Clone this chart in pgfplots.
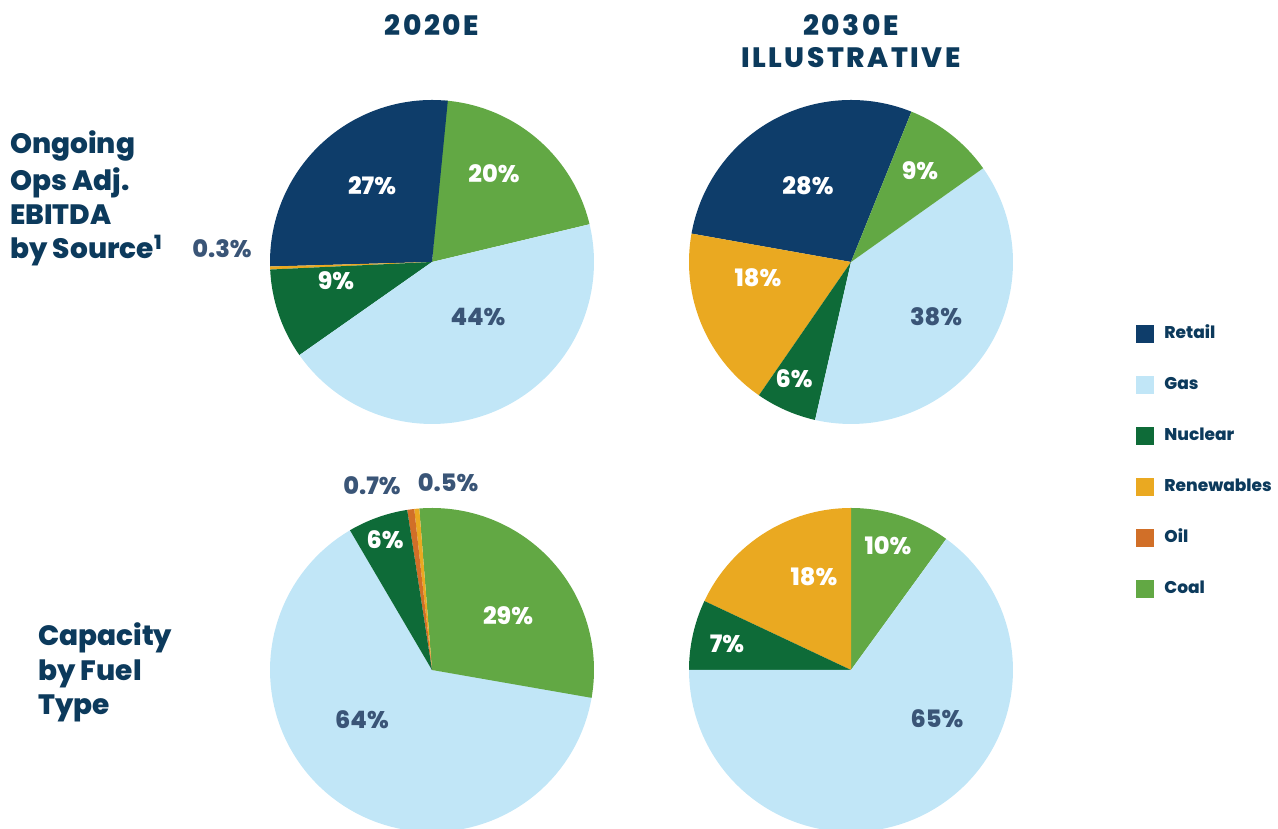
\documentclass[border=0pt]{standalone}
\usepackage{pgfplots}
\pgfplotsset{compat=1.18}
\usepackage{fontspec}
\setmainfont{Poppins}[BoldFont={Poppins ExtraBold}]
\definecolor{retail}{HTML}{0E3D6A}
\definecolor{gas}{HTML}{C1E6F7}
\definecolor{nuclear}{HTML}{0E6B38}
\definecolor{renew}{HTML}{EAA921}
\definecolor{oil}{HTML}{D16F28}
\definecolor{coal}{HTML}{62A844}
\definecolor{navy}{HTML}{0C3A5C}
\definecolor{slate}{HTML}{3A5577}
% slice: cx, cy, start angle, end angle, colour
\newcommand{\slice}[5]{%
  \addplot[fill=#5, draw=none, domain=#3:#4, samples=90, forget plot]
    ({#1+162*cos(x)},{#2+162*sin(x)}) -- (axis cs:#1,#2) -- cycle;}
\newcommand{\fs}[1]{\fontsize{#1}{#1}\selectfont\bfseries}
\begin{document}
\begin{tikzpicture}
\useasboundingbox (0,0) rectangle (1278pt,829pt);
\begin{axis}[at={(0pt,0pt)}, anchor=south west, scale only axis,
  width=1278pt, height=829pt, xmin=0, xmax=1278, ymin=0, ymax=829,
  hide axis,
  legend image code/.code={\fill[#1] (0pt,-8.5pt) rectangle (17pt,8.5pt);
    \path[draw=none, fill=none] (0pt,0pt) rectangle (26pt,0.1pt);},
  legend style={at={(axis cs:1133,507)}, anchor=north west, draw=none, fill=none,
    row sep=31pt, font=\fs{17}\color{navy},
    nodes={text height=12pt, text depth=4pt, inner sep=2pt}},
  legend cell align=left]
% ---- Pie 1: 2020E EBITDA (centre 432,567); start 84.4 deg, 3.6 deg per %
\slice{432}{567}{84.4+80.3*3.6}{84.4+100.3*3.6}{coal}  % Coal 20
\slice{432}{567}{84.4}{84.4+27*3.6}{retail}            % Retail 27
\slice{432}{567}{84.4+27*3.6}{84.4+27.3*3.6}{renew}    % Renewables 0.3
\slice{432}{567}{84.4+27.3*3.6}{84.4+36.3*3.6}{nuclear}% Nuclear 9
\slice{432}{567}{84.4+36.3*3.6}{84.4+80.3*3.6}{gas}    % Gas 44
% ---- Pie 2: 2030E EBITDA (centre 851,567); start 68.1 deg, 360/99 deg per %
\slice{851}{567}{68.1}{68.1+28*360/99}{retail}          % Retail 28
\slice{851}{567}{68.1+28*360/99}{68.1+46*360/99}{renew} % Renewables 18
\slice{851}{567}{68.1+46*360/99}{68.1+52*360/99}{nuclear}% Nuclear 6
\slice{851}{567}{68.1+52*360/99}{68.1+90*360/99}{gas}   % Gas 38
\slice{851}{567}{68.1+90*360/99}{68.1+99*360/99}{coal}  % Coal 9
% ---- Pie 3: 2020E capacity (centre 432,159); start -9.9 deg
\slice{432}{159}{-9.9+36.2*3.6}{-9.9+100.2*3.6}{gas}    % Gas 64
\slice{432}{159}{-9.9}{-9.9+29*3.6}{coal}               % Coal 29
\slice{432}{159}{-9.9+29*3.6}{-9.9+29.5*3.6}{renew}     % Renewables 0.5
\slice{432}{159}{-9.9+29.5*3.6}{-9.9+30.2*3.6}{oil}     % Oil 0.7
\slice{432}{159}{-9.9+30.2*3.6}{-9.9+36.2*3.6}{nuclear} % Nuclear 6
% ---- Pie 4: 2030E capacity (centre 851,159); start 54 deg
\slice{851}{159}{54}{54+10*3.6}{coal}                   % Coal 10
\slice{851}{159}{54+10*3.6}{54+28*3.6}{renew}           % Renewables 18
\slice{851}{159}{54+28*3.6}{54+35*3.6}{nuclear}         % Nuclear 7
\slice{851}{159}{54+35*3.6}{54+100*3.6}{gas}            % Gas 65
% ---- legend
\addlegendimage{retail}\addlegendentry{Retail}
\addlegendimage{gas}\addlegendentry{Gas}
\addlegendimage{nuclear}\addlegendentry{Nuclear}
\addlegendimage{renew}\addlegendentry{Renewables}
\addlegendimage{oil}\addlegendentry{Oil}
\addlegendimage{coal}\addlegendentry{Coal}
% ---- slice labels
\begin{scope}[every node/.style={font=\fs{24}, inner sep=0pt}]
\node[white] at (axis cs:372,643) {27\%};
\node[white] at (axis cs:494,655) {20\%};
\node[white] at (axis cs:336,548) {9\%};
\node[slate] at (axis cs:478,512) {44\%};
\node[slate] at (axis cs:222,580) {0.3\%};
\node[white] at (axis cs:808,643) {28\%};
\node[white] at (axis cs:920,658) {9\%};
\node[white] at (axis cs:758,551) {18\%};
\node[white] at (axis cs:794,450) {6\%};
\node[slate] at (axis cs:936,512) {38\%};
\node[white] at (axis cs:385,289) {6\%};
\node[white] at (axis cs:508,213) {29\%};
\node[slate] at (axis cs:362,109) {64\%};
\node[slate] at (axis cs:372,343) {0.7\%};
\node[slate] at (axis cs:448,346) {0.5\%};
\node[white] at (axis cs:888,283) {10\%};
\node[white] at (axis cs:814,252) {18\%};
\node[white] at (axis cs:727,185) {7\%};
\node[slate] at (axis cs:937,110) {65\%};
\end{scope}
% ---- titles
\begin{scope}[every node/.style={font=\fs{28}, text=navy, inner sep=0pt}]
\node[font=\fs{28}\addfontfeatures{LetterSpace=9}] at (axis cs:432,804) {2020E};
\node[align=center, font=\fs{28}\addfontfeatures{LetterSpace=9}] at (axis cs:851,788) {2030E\\[4pt]ILLUSTRATIVE};
\node[anchor=north west, align=left] at (axis cs:10,699) {Ongoing\\[6pt]Ops Adj.\\[6pt]EBITDA\\[6pt]by Source\textsuperscript{1}};
\node[anchor=north west, align=left] at (axis cs:38,207) {Capacity\\[6pt]by Fuel\\[6pt]Type};
\end{scope}
\end{axis}
\end{tikzpicture}
\end{document}
